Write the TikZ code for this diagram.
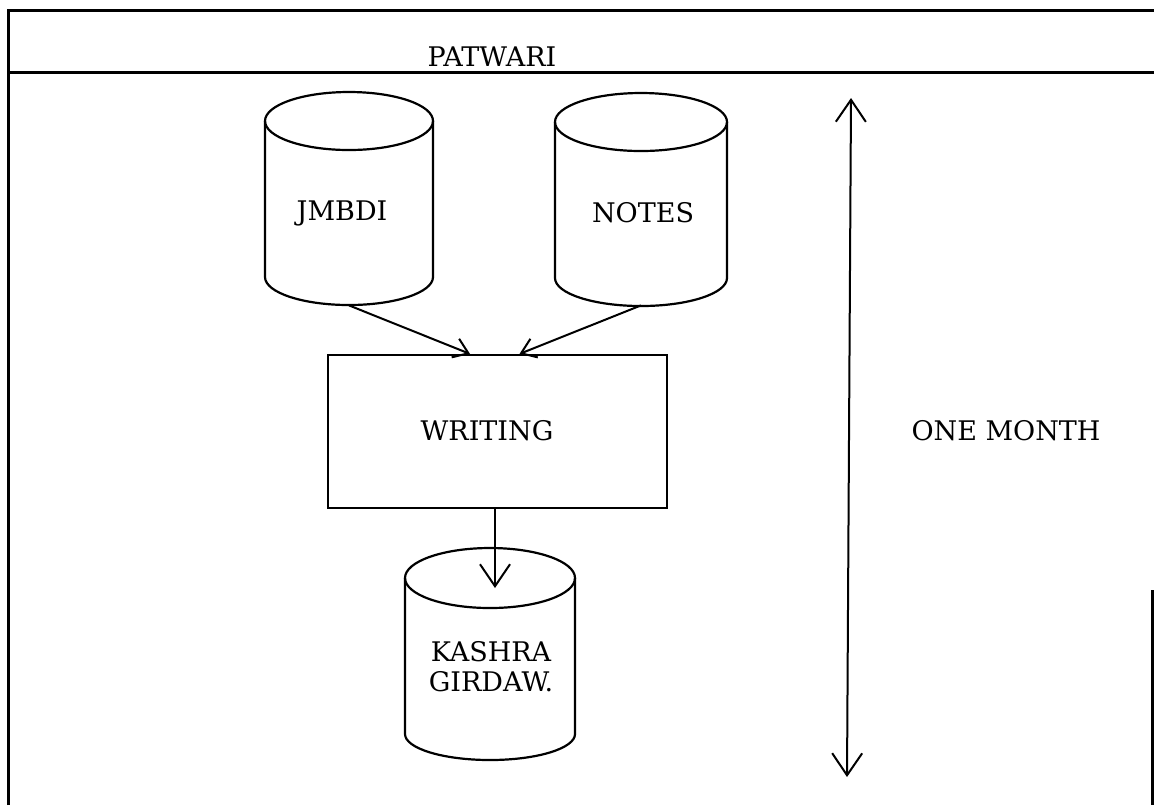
\documentclass[tikz,border=0pt]{standalone}
\usepackage{fontspec}
\setmainfont{DejaVu Serif}
\usetikzlibrary{arrows.meta}
\begin{document}
\begin{tikzpicture}[x=0.5pt,y=-0.5pt,
  line/.style={line width=1.1pt},
  frame/.style={line width=1.5pt},
  conn/.style={line width=1pt,-{Straight Barb[length=7pt,width=10pt,line width=1pt]}},
  bigconn/.style={line width=1pt,-{Straight Barb[length=11pt,width=15pt,line width=1pt]}},
  dblconn/.style={line width=1pt,{Straight Barb[length=11pt,width=15pt,line width=1pt]}-{Straight Barb[length=11pt,width=15pt,line width=1pt]}},
  lbl/.style={font=\fontsize{13.5}{16}\selectfont, align=center, inner sep=0pt},
  body/.style={inner sep=0pt, minimum width=85pt},
  procbox/.style={draw, line width=1.1pt, minimum width=169.5pt, minimum height=76.5pt, inner sep=0pt}]
\useasboundingbox (0,0) rectangle (1154,805);

% frame
\draw[frame] (8,805) -- (8,10) -- (1154,10);
\draw[frame] (8,72) -- (1154,72);
\draw[frame] (1152,590) -- (1152,805);
\node[lbl] (patwari) at (492,57) {PATWARI};

% JMBDI cylinder
\draw[line] (349,121) ellipse [x radius=42pt, y radius=14.5pt];
\draw[line] (265,121) -- (265,277) arc[start angle=180,end angle=360,x radius=42pt,y radius=14pt] -- (433,121);
\node[body, minimum height=106.5pt] (jm) at (349,198.5) {};
\node[lbl] (jmt) at (342,213) {JMBDI};

% NOTES cylinder
\draw[line] (641,122) ellipse [x radius=43pt, y radius=14.5pt];
\draw[line] (555,122) -- (555,278) arc[start angle=180,end angle=360,x radius=43pt,y radius=14pt] -- (727,122);
\node[body, minimum height=106.5pt] (no) at (641,198.5) {};
\node[lbl] (not) at (643,213) {NOTES};

% WRITING box
\node[procbox] (w) at (497.5,431.5) {};
\node[lbl] (wt) at (487,431) {WRITING};

% KASHRA cylinder
\draw[line] (490,578) ellipse [x radius=42.5pt, y radius=15pt];
\draw[line] (405,578) -- (405,734) arc[start angle=180,end angle=360,x radius=42.5pt,y radius=13pt] -- (575,578);
\node[body, minimum height=106pt] (ks) at (490,654) {};
\node[lbl] (kst) at (491,667) {KASHRA\\[-1pt]GIRDAW.};

% connectors
\draw[conn] (jm.south) -- ([xshift=-13.75pt]w.north);
\draw[conn] (no.south) -- ([xshift=11pt]w.north);
\coordinate (kin) at (495,588);
\draw[bigconn] ([xshift=-1.25pt]w.south) -- (kin);

% duration arrow
\coordinate (mt) at (851,98);
\coordinate (mb) at (847,777);
\draw[dblconn] (mb) -- (mt);
\node[lbl] (om) at (1006,431) {ONE MONTH};
\end{tikzpicture}
\end{document}
